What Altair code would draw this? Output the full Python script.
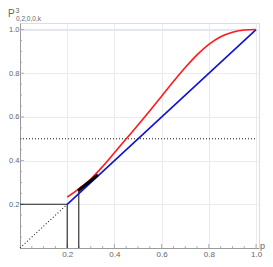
import altair as alt
import pandas as pd

# red curve P^3
red_p = [0.20, 0.25, 0.30, 0.35, 0.40, 0.45, 0.50, 0.55, 0.60, 0.65, 0.70, 0.75, 0.80, 0.85, 0.90, 0.95, 1.00]
red_y = [0.233, 0.272, 0.316, 0.373, 0.436, 0.500, 0.563, 0.628, 0.695, 0.762, 0.826, 0.884, 0.932, 0.967, 0.988, 0.998, 1.000]
# blue diagonal
blue_p = [0.2, 1.0]
blue_y = [0.2, 1.0]
# dotted diagonal from origin
dot_p = [0.0, 0.2]
dot_y = [0.0, 0.2]
# dotted level 0.5
half_level = 0.5
# black drop lines
drop_x = [0.2, 0.249]
drop_top = [0.2, 0.263]
hline_y = 0.2
hline_x2 = 0.2
# thick cobweb segment
cob_p = [0.246, 0.33]
cob_y = [0.262, 0.335]
# ticks
major_ticks = [0.2, 0.4, 0.6, 0.8, 1.0]
minor_ticks = [0.05, 0.1, 0.15, 0.25, 0.3, 0.35, 0.45, 0.5, 0.55, 0.65, 0.7, 0.75, 0.85, 0.9, 0.95]

W, H = 239, 225
GRAY = "#9a9a9a"
LBL = "#666666"

xs = alt.Scale(domain=[0, 1.0125], nice=False, zero=False)
ys = alt.Scale(domain=[0, 1.03], nice=False, zero=False)
xaxis = alt.Axis(values=major_ticks, format=".1f", grid=True, gridColor="#ebebeb",
                 ticks=False, tickSize=0, labelPadding=2, domainColor=GRAY,
                 labelColor=LBL, labelFont="Liberation Sans", labelFontSize=8, title=None)
yaxis = alt.Axis(values=major_ticks, format=".1f", grid=True, gridColor="#ebebeb",
                 ticks=False, tickSize=0, labelPadding=1, domainColor=GRAY,
                 labelColor=LBL, labelFont="Liberation Sans", labelFontSize=7.5, title=None)


def X(f):
    return alt.X(f, type="quantitative", scale=xs, axis=xaxis)


def Y(f):
    return alt.Y(f, type="quantitative", scale=ys, axis=yaxis)


# light blue y=1 line
top_df = pd.DataFrame({"x": [0.0], "x2": [1.0], "y": [1.0]})
top_line = alt.Chart(top_df).mark_rule(color="#d3e7f8", strokeWidth=1.2).encode(
    x=X("x"), x2="x2:Q", y=Y("y"))

# minor / major ticks (inward)
mx_df = pd.DataFrame({"v": minor_ticks})
Mx_df = pd.DataFrame({"v": major_ticks})
x_minor = alt.Chart(mx_df).mark_rule(color=GRAY, strokeWidth=0.8).encode(
    x=X("v"), y=alt.value(H), y2=alt.value(H - 2))
x_major = alt.Chart(Mx_df).mark_rule(color=GRAY, strokeWidth=0.8).encode(
    x=X("v"), y=alt.value(H), y2=alt.value(H - 4))
y_minor = alt.Chart(mx_df).mark_rule(color=GRAY, strokeWidth=0.8).encode(
    y=Y("v"), x=alt.value(0), x2=alt.value(2))
y_major = alt.Chart(Mx_df).mark_rule(color=GRAY, strokeWidth=0.8).encode(
    y=Y("v"), x=alt.value(0), x2=alt.value(4))

# dotted 0.5 level
half_df = pd.DataFrame({"x": [0.0], "x2": [1.0], "y": [half_level]})
half_line = alt.Chart(half_df).mark_rule(color="#111111", strokeWidth=1, strokeDash=[1, 2]).encode(
    x=X("x"), x2="x2:Q", y=Y("y"))

# dotted diagonal
dot_df = pd.DataFrame({"p": dot_p, "y": dot_y})
dot_line = alt.Chart(dot_df).mark_line(color="#222222", strokeWidth=1.1, strokeDash=[1, 2.2]).encode(
    x=X("p"), y=Y("y"))

# black drop lines
drop_df = pd.DataFrame({"x": drop_x, "y0": [0.0, 0.0], "y1": drop_top})
drops = alt.Chart(drop_df).mark_rule(color="#222222", strokeWidth=1.1).encode(
    x=X("x"), y=Y("y0"), y2="y1:Q")
h_df = pd.DataFrame({"x": [0.0], "x2": [hline_x2], "y": [hline_y]})
hline = alt.Chart(h_df).mark_rule(color="#222222", strokeWidth=1.1).encode(
    x=X("x"), x2="x2:Q", y=Y("y"))

# red and blue curves
red_df = pd.DataFrame({"p": red_p, "y": red_y})
red = alt.Chart(red_df).mark_line(color="#ff1a1a", strokeWidth=1.6, interpolate="monotone").encode(
    x=X("p"), y=Y("y"))
blue_df = pd.DataFrame({"p": blue_p, "y": blue_y})
blue = alt.Chart(blue_df).mark_line(color="#1212cc", strokeWidth=1.6).encode(
    x=X("p"), y=Y("y"))

# cobweb
cob_df = pd.DataFrame({"p": cob_p, "y": cob_y})
cob = alt.Chart(cob_df).mark_line(color="#000000", strokeWidth=3).encode(
    x=X("p"), y=Y("y"))

# axis labels
lab_df = pd.DataFrame({"t": ["P"]})
lab_P = alt.Chart(lab_df).mark_text(text="P", font="Liberation Sans", fontSize=10, color=LBL,
                                    align="left", baseline="alphabetic").encode(
    x=alt.value(-12), y=alt.value(-6))
lab_3 = alt.Chart(lab_df).mark_text(text="3", font="Liberation Sans", fontSize=7, color=LBL,
                                    align="left", baseline="alphabetic").encode(
    x=alt.value(-4.5), y=alt.value(-10))
lab_sub = alt.Chart(lab_df).mark_text(text="0,2,0,0,k", font="Liberation Sans", fontSize=6.5, color=LBL,
                                      align="left", baseline="alphabetic").encode(
    x=alt.value(-4), y=alt.value(-2))
lab_p = alt.Chart(lab_df).mark_text(text="p", font="Liberation Sans", fontSize=9, color=LBL,
                                    align="left", baseline="alphabetic").encode(
    x=alt.value(W + 1), y=alt.value(H + 1))

chart = alt.layer(
    top_line, half_line, x_minor, x_major, y_minor, y_major,
    dot_line, drops, hline, blue, red, cob,
    lab_P, lab_3, lab_sub, lab_p,
).properties(
    width=W, height=H,
    autosize=alt.AutoSizeParams(type="none"),
    padding={"left": 12, "top": 15, "right": 6, "bottom": 11},
).configure_view(stroke=None).configure(background="white")

chart.save("out.html", embed_options={"renderer": "svg", "actions": False})
